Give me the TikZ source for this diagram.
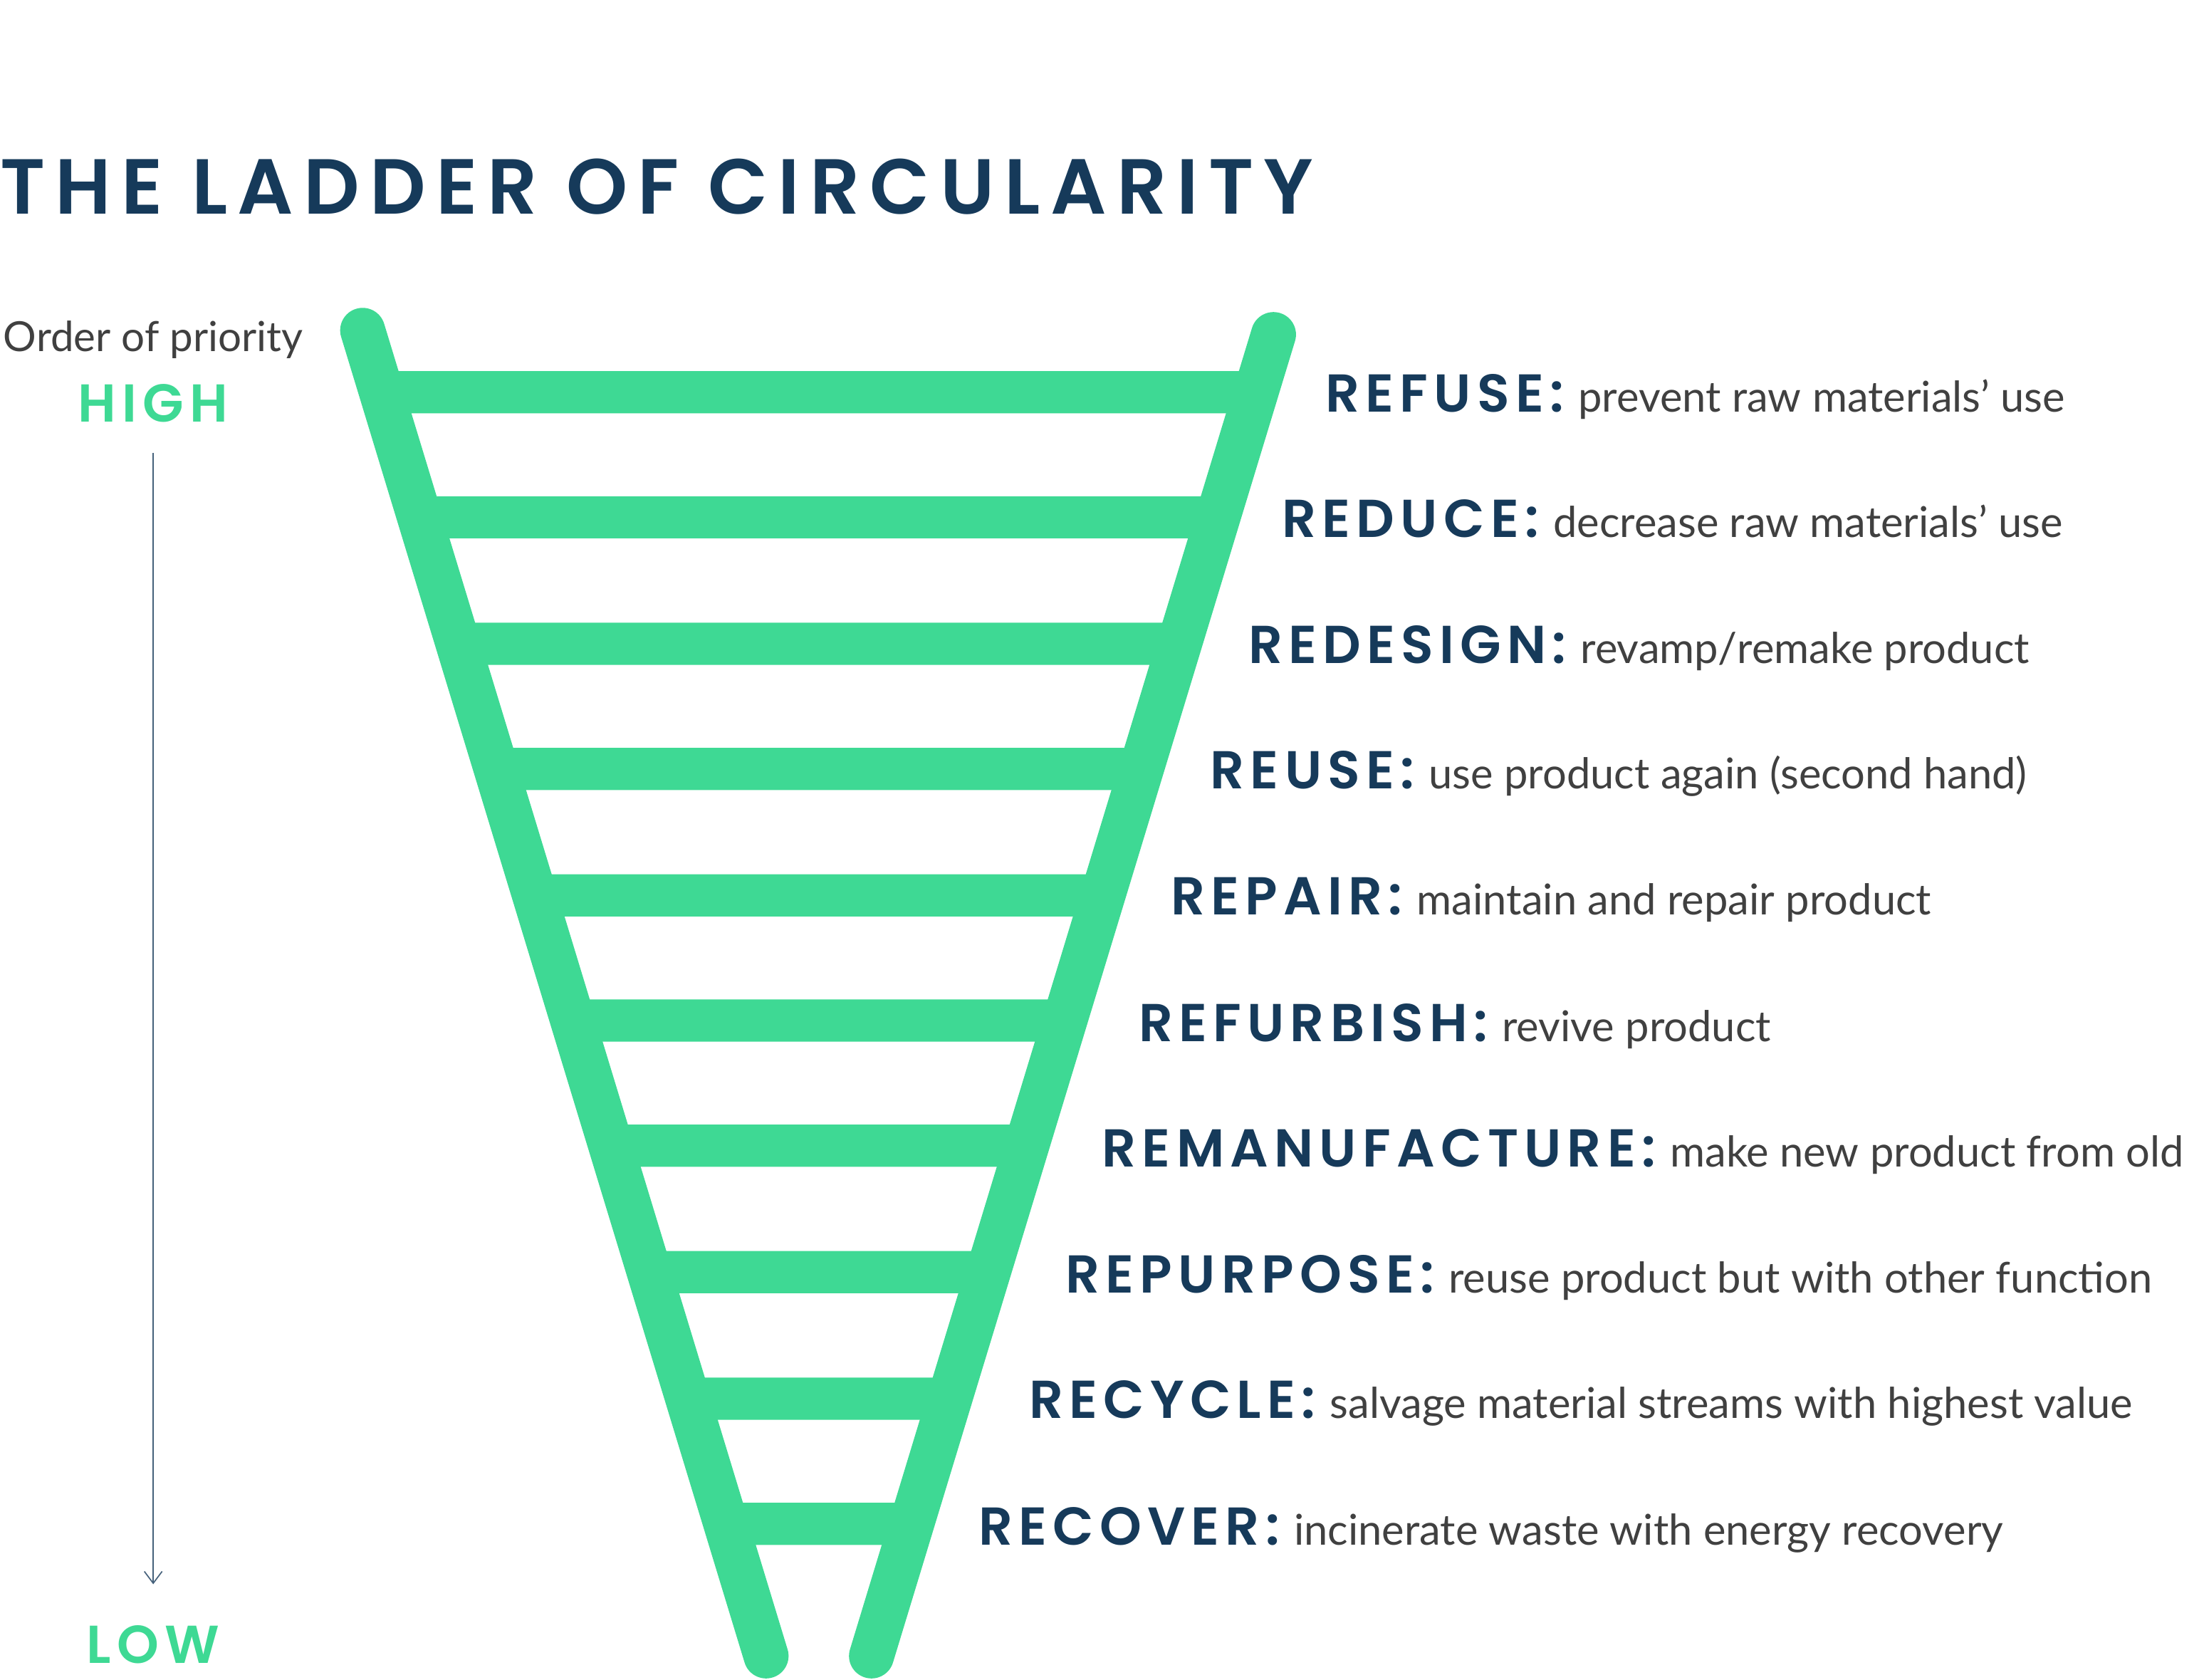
\documentclass[tikz,border=0pt]{standalone}
\usepackage{fontspec}
\setmainfont{Lato}
\newfontfamily\titlefont[LetterSpace=13]{Poppins SemiBold}
\newfontfamily\termfont[LetterSpace=11]{Poppins SemiBold}
\usetikzlibrary{arrows.meta,calc}
\definecolor{navy}{HTML}{163A5A}
\definecolor{lgreen}{HTML}{3ED994}
\begin{document}
\begin{tikzpicture}[x=0.05cm,y=-0.05cm,
  rail/.style={lgreen,line width=32*1.4226pt,line cap=round},
  rung/.style={lgreen,line width=30*1.4226pt},
  term/.style={anchor=base west,inner sep=0pt,text=navy,font=\termfont\fontsize{54}{60}\selectfont},
  desc/.style={anchor=base west,inner sep=0pt,text=black!75,font=\fontsize{43}{50}\selectfont}]
\useasboundingbox (0,0) rectangle (1568,1195);
\node[anchor=base west,inner sep=0pt,text=navy,font=\titlefont\fontsize{79}{90}\selectfont] (title) at (0,152) {THE LADDER OF CIRCULARITY};
\coordinate (lt) at (258,235); \coordinate (lb) at (545,1178);
\coordinate (rt) at (906,238); \coordinate (rb) at (620,1178);
\foreach \y in {279,368,458,547,637,726,815,905,995,1084}{
  \draw[rung] ($(lt)!{(\y-235)/943}!(lb)$) -- ($(rt)!{(\y-238)/940}!(rb)$);
}
\draw[rail] (lt) -- (lb);
\draw[rail] (rt) -- (rb);
\foreach \x/\y/\t/\d [count=\i] in {943/281/REFUSE/prevent raw materials’ use,
 912/370/REDUCE/decrease raw materials’ use,
 888/460/REDESIGN/revamp\slash remake product,
 861/549/REUSE/use product again (second hand),
 833/639/REPAIR/maintain and repair product,
 810/729/REFURBISH/revive product,
 784/818/REMANUFACTURE/make new product from old,
 758/908/REPURPOSE/reuse product but with other function,
 732/997/RECYCLE/salvage material streams with highest value,
 696/1087/RECOVER/incinerate waste with energy recovery}{
  \node[term] (t\i) at (\x,\y+12) {\t:};
  \node[desc] (d\i) at ([xshift=10*1.4226pt]t\i.base east) {\d};
}
\node[anchor=base,inner sep=0pt,text=black!75,font=\fontsize{42}{50}\selectfont] (order) at (109,250) {Order of priority};
\node[anchor=base,inner sep=0pt,text=lgreen,font=\termfont\fontsize{54}{60}\selectfont] (high) at (109,300) {HIGH};
\node[anchor=base,inner sep=0pt,text=lgreen,font=\termfont\fontsize{54}{60}\selectfont] (low) at (109,1183) {LOW};
\coordinate (a1) at (109,322); \coordinate (a2) at (109,1127);
\draw[navy!80,line width=1.2pt,-{Straight Barb[length=12pt,width=18pt]}] (a1) -- (a2);
\end{tikzpicture}
\end{document}
